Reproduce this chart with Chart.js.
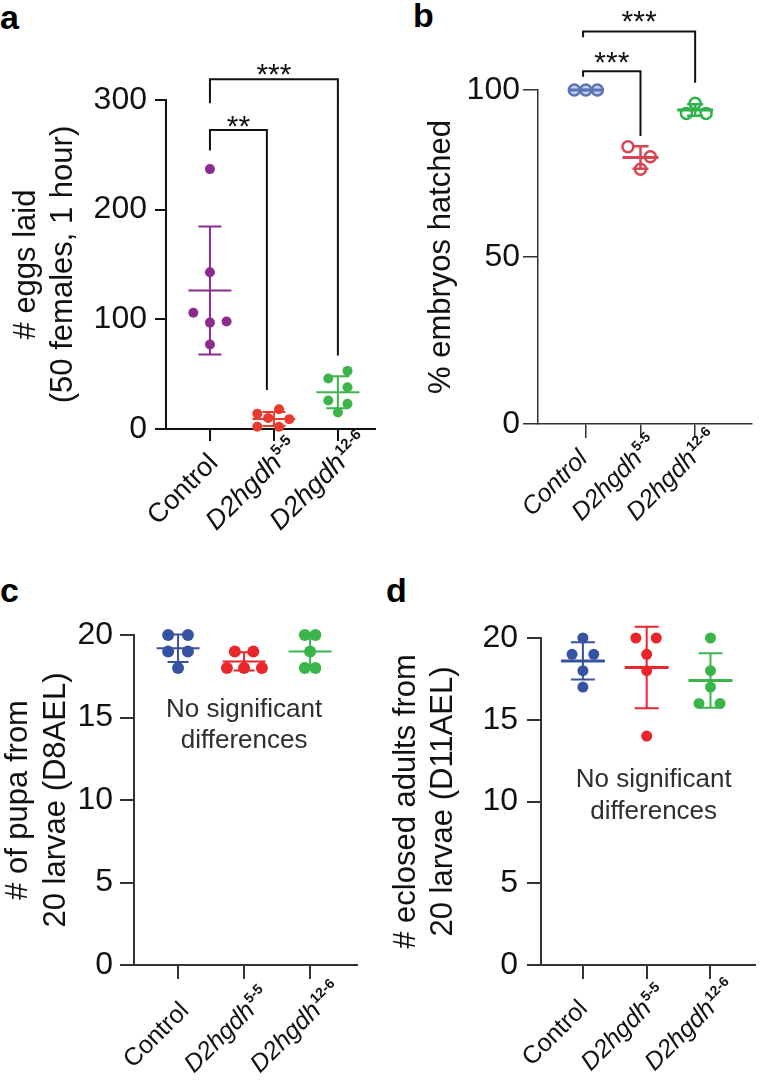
<!DOCTYPE html>
<html>
<head>
<meta charset="utf-8">
<title>D2hgdh fertility panels</title>
<script src="https://cdn.jsdelivr.net/npm/chart.js@4.4.1/dist/chart.umd.min.js"></script>
<style>
  body { margin: 0; background: #fff; }
  #fig { position: relative; width: 760px; height: 1088px; overflow: hidden; }
  #fig canvas { position: absolute; }
  .letter { position: absolute; font: bold 34px "Liberation Sans", Arial, sans-serif; line-height: 34px; color: #000; }
</style>
</head>
<body>
<div id="fig">
  <div class="letter" style="left:0px; top:0px;">a</div>
  <div class="letter" style="left:413px; top:-2px;">b</div>
  <div class="letter" style="left:0px; top:573px;">c</div>
  <div class="letter" style="left:386px; top:573px;">d</div>
  <canvas id="panelA" width="380" height="540" style="left:0; top:0;"></canvas>
  <canvas id="panelB" width="380" height="540" style="left:380px; top:0;"></canvas>
  <canvas id="panelC" width="380" height="548" style="left:0; top:540px;"></canvas>
  <canvas id="panelD" width="380" height="548" style="left:380px; top:540px;"></canvas>
</div>
<script>
// Group labels (main text + superscript allele)
const groupNames = ['Control', 'D2hgdh', 'D2hgdh'];
const groupSups = ['', '5-5', '12-6'];

// a: eggs laid (50 females, 1 hour)
const eggsControl = [237, 143, 106, 97, 98, 77];
const eggs55 = [14, 18, 10, 9, 2, 2];
const eggs126 = [53, 46, 38, 26, 23, 15];
const eggsSpread = [[0, 0, -0.26, 0, 0.26, 0], [-0.26, 0.08, -0.09, 0.24, -0.26, 0.08], [0.15, -0.15, 0.15, -0.15, 0.15, 0]];
const eggsTicks = [0, 100, 200, 300];
// [from group, to group, bar height, left leg end, right leg end, stars, stars height]
const eggsBrackets = [[1, 3, 319, 297, 67, '***', 330], [1, 1.89, 272.6, 254, 35.5, '**', 283]];

// b: % embryos hatched
const hatchControl = [100, 100, 100];
const hatch55 = [83, 80, 76.3];
const hatch126 = [96, 93, 93];
const hatchSpread = [[-0.21, 0, 0.21], [-0.23, 0.18, 0], [0, -0.16, 0.2]];
const hatchTicks = [0, 50, 100];
const hatchBrackets = [[0.95, 3, 117.5, 115.8, 102.2, '***', 122.8], [0.95, 2, 105.6, 104, 86.2, '***', 110.5]];

// c: # of pupa from 20 larvae (D8AEL)
const pupaControl = [20, 20, 19, 19, 18];
const pupa55 = [19, 19, 18, 18, 18];
const pupa126 = [20, 20, 19, 18, 18];
const pupaSpread = [[-0.15, 0.15, -0.15, 0.15, 0], [-0.14, 0.14, -0.26, 0, 0.27], [-0.08, 0.08, 0, -0.08, 0.08]];

// d: # eclosed adults from 20 larvae (D11AEL)
const adultControl = [20, 19, 19, 18, 17];
const adult55 = [20, 20, 19, 18, 14];
const adult126 = [20, 18, 17, 16, 16];
const adultSpread = [[0, -0.17, 0.17, 0, 0], [-0.17, 0.15, 0, 0, 0], [0, 0, 0, -0.18, 0.15]];
const countTicks = [0, 5, 10, 15, 20];

const FONT = '"Liberation Sans", Arial, sans-serif';
Chart.defaults.font.family = FONT;
Chart.defaults.color = '#111';

// mean +/- SD bars, significance brackets and notes
const dotPlot = {
    id: 'dotPlot',
    afterDatasetsDraw(chart, args, o) {
        const { ctx, scales: { x, y } } = chart;
        ctx.save();
        ctx.lineCap = 'butt';
        chart.data.datasets.forEach((ds, g) => {
            const vals = ds.data.map(p => p.y);
            const m = vals.reduce((a, b) => a + b, 0) / vals.length;
            const sd = Math.sqrt(vals.reduce((a, b) => a + (b - m) ** 2, 0) / (vals.length - 1));
            const cx = x.getPixelForValue(g + 1);
            const ym = y.getPixelForValue(m);
            const yt = y.getPixelForValue(m + sd);
            const yb = y.getPixelForValue(m - sd);
            ctx.strokeStyle = ds.borderColor;
            ctx.lineWidth = o.barWidth;
            ctx.beginPath();
            ctx.moveTo(cx, yt); ctx.lineTo(cx, yb);
            ctx.moveTo(cx - o.cap, yt); ctx.lineTo(cx + o.cap, yt);
            ctx.moveTo(cx - o.cap, yb); ctx.lineTo(cx + o.cap, yb);
            ctx.stroke();
            ctx.lineWidth = o.meanWidth;
            ctx.beginPath();
            ctx.moveTo(cx - o.half, ym); ctx.lineTo(cx + o.half, ym);
            ctx.stroke();
        });

        // significance brackets
        ctx.strokeStyle = '#111';
        ctx.lineWidth = o.bracketWidth;
        ctx.fillStyle = '#111';
        ctx.font = o.starSize + 'px ' + FONT;
        ctx.textAlign = 'center';
        ctx.textBaseline = 'alphabetic';
        (o.brackets || []).forEach(([g1, g2, h, l1, l2, stars, sh]) => {
            const x1 = x.getPixelForValue(g1), x2 = x.getPixelForValue(g2);
            const yb = y.getPixelForValue(h);
            ctx.beginPath();
            ctx.moveTo(x1, y.getPixelForValue(l1));
            ctx.lineTo(x1, yb);
            ctx.lineTo(x2, yb);
            ctx.lineTo(x2, y.getPixelForValue(l2));
            ctx.stroke();
            ctx.fillText(stars, (x1 + x2) / 2, y.getPixelForValue(sh) + 0.575 * o.starSize);
        });

        // "No significant differences"
        if (o.note) {
            ctx.fillStyle = '#2e2e2e';
            ctx.font = o.note.size + 'px ' + FONT;
            ctx.textBaseline = 'middle';
            o.note.lines.forEach((t, i) => {
                ctx.fillText(t, x.getPixelForValue(o.note.x), y.getPixelForValue(o.note.y[i]));
            });
        }
        ctx.restore();
    }
};

// rotated category labels: main text ends at the anchor, superscript allele runs past it
const catLabels = {
    id: 'catLabels',
    afterDraw(chart, args, o) {
        const { ctx, scales: { x }, chartArea } = chart;
        groupNames.forEach((name, i) => {
            const px = x.getPixelForValue(i + 1) + o.dx;
            const py = chartArea.bottom + o.dy;
            const mainFont = (o.italic[i] ? 'italic ' : '') + o.size + 'px ' + FONT;
            ctx.save();
            ctx.translate(px, py);
            ctx.rotate(-Math.PI / 4);
            ctx.fillStyle = '#111';
            ctx.textBaseline = 'middle';
            ctx.textAlign = 'right';
            ctx.font = mainFont;
            ctx.fillText(name, 0, 0);
            if (groupSups[i]) {
                ctx.textAlign = 'left';
                ctx.font = 'bold ' + o.supSize + 'px ' + FONT;
                ctx.fillText(groupSups[i], 1, -o.supRise);
            }
            ctx.restore();
        });
    }
};

function groupDatasets(groups, spread, colors, pt) {
    return groups.map((vals, g) => ({
        data: vals.map((v, i) => ({ x: g + 1 + spread[g][i], y: v })),
        borderColor: colors[g],
        backgroundColor: pt.fill ? pt.fill[g] : colors[g],
        pointRadius: pt.radius,
        pointBorderWidth: pt.border,
        pointBorderColor: colors[g],
        pointBackgroundColor: pt.fill ? pt.fill[g] : colors[g],
        clip: false
    }));
}

function makePanel(id, c) {
    return new Chart(document.getElementById(id), {
        type: 'scatter',
        data: { datasets: groupDatasets(c.groups, c.spread, c.colors, c.point) },
        options: {
            responsive: false,
            animation: false,
            events: [],
            layout: { padding: { top: c.top, right: c.right, bottom: 0, left: 0 } },
            plugins: {
                legend: { display: false },
                tooltip: { enabled: false },
                dotPlot: c.dot,
                catLabels: c.labels
            },
            scales: {
                x: {
                    type: 'linear',
                    min: c.xMin,
                    max: c.xMax,
                    afterBuildTicks: s => { s.ticks = groupNames.map((n, i) => ({ value: i + 1 })); },
                    afterFit: s => { s.height = c.xHeight; },
                    ticks: { display: false },
                    grid: { drawOnChartArea: false, drawTicks: true, tickLength: c.xTick, color: c.axisColor, lineWidth: c.axisWidth },
                    border: { display: true, color: c.axisColor, width: c.axisWidth }
                },
                y: {
                    min: c.yTicks[0],
                    max: c.yTicks[c.yTicks.length - 1],
                    afterBuildTicks: s => { s.ticks = c.yTicks.map(v => ({ value: v })); },
                    afterFit: s => { s.width = c.yWidth; },
                    ticks: { font: { size: c.tickSize }, padding: c.tickPad, color: '#111' },
                    grid: { drawOnChartArea: false, drawTicks: true, tickLength: c.yTick, color: c.axisColor, lineWidth: c.axisWidth },
                    border: { display: true, color: c.axisColor, width: c.axisWidth },
                    title: {
                        display: true,
                        text: c.title,
                        color: '#111',
                        font: { size: c.titleSize, lineHeight: c.titleLine },
                        padding: { top: c.titlePad, bottom: 0 }
                    }
                }
            }
        },
        plugins: [dotPlot, catLabels]
    });
}

const colorsA = ['#8c2a8e', '#ea3a2d', '#3cb44b'];
const colorsB = ['#5a74b8', '#d9434f', '#2eb24b'];
const colorsCD = ['#3652a3', '#e8262b', '#3bb44a'];

makePanel('panelA', {
    groups: [eggsControl, eggs55, eggs126], spread: eggsSpread, colors: colorsA,
    point: { radius: 5, border: 0 },
    top: 100, right: 0, xHeight: 111, yWidth: 166,
    xMin: 0.313, xMax: 3.58, yTicks: eggsTicks,
    tickSize: 32, tickPad: 8, yTick: 11, xTick: 12,
    axisColor: '#111', axisWidth: 2,
    title: ['# eggs laid', '(50 females, 1 hour)'], titleSize: 31, titleLine: 1.2, titlePad: 8,
    dot: { half: 21.5, cap: 11.5, barWidth: 2, meanWidth: 2, bracketWidth: 2, starSize: 30, brackets: eggsBrackets },
    labels: { dx: 4, dy: 30, size: 27, supSize: 15, supRise: 7, italic: [false, true, true] }
});

makePanel('panelB', {
    groups: [hatchControl, hatch55, hatch126], spread: hatchSpread, colors: colorsB,
    point: { radius: 5.5, border: 2.5, fill: ['rgba(90,116,184,0.35)', 'rgba(255,255,255,0)', 'rgba(255,255,255,0)'] },
    top: 90, right: 3, xHeight: 116, yWidth: 158,
    xMin: 0.125, xMax: 4.04, yTicks: hatchTicks,
    tickSize: 32, tickPad: 3, yTick: 15, xTick: 14,
    axisColor: '#333', axisWidth: 1.5,
    title: '% embryos hatched', titleSize: 31, titleLine: 1.2, titlePad: 43,
    dot: { half: 18, cap: 8, barWidth: 2.5, meanWidth: 3, bracketWidth: 2, starSize: 30, brackets: hatchBrackets },
    labels: { dx: -2, dy: 31, size: 25, supSize: 14, supRise: 7, italic: [true, true, true] }
});

makePanel('panelC', {
    groups: [pupaControl, pupa55, pupa126], spread: pupaSpread, colors: colorsCD,
    point: { radius: 6, border: 0 },
    top: 95, right: 23, xHeight: 123, yWidth: 134,
    xMin: 0.333, xMax: 3.71, yTicks: countTicks,
    tickSize: 32, tickPad: 7, yTick: 14, xTick: 14,
    axisColor: '#333', axisWidth: 2,
    title: ['# of pupa from', '20 larvae (D8AEL)'], titleSize: 31, titleLine: 1.22, titlePad: 0,
    dot: { half: 21.5, cap: 10.5, barWidth: 2, meanWidth: 2, bracketWidth: 2, starSize: 30,
           note: { x: 2, y: [15.45, 13.6], lines: ['No significant', 'differences'], size: 26 } },
    labels: { dx: 7, dy: 42, size: 25, supSize: 14, supRise: 7, italic: [false, true, true] }
});

makePanel('panelD', {
    groups: [adultControl, adult55, adult126], spread: adultSpread, colors: colorsCD,
    point: { radius: 5.5, border: 0 },
    top: 98, right: 0, xHeight: 123, yWidth: 161,
    xMin: 0.343, xMax: 3.69, yTicks: countTicks,
    tickSize: 32, tickPad: 9, yTick: 14, xTick: 14,
    axisColor: '#333', axisWidth: 2,
    title: ['# eclosed adults from', '20 larvae (D11AEL)'], titleSize: 31, titleLine: 1.2, titlePad: 8,
    dot: { half: 22, cap: 12, barWidth: 2, meanWidth: 3, bracketWidth: 2, starSize: 30,
           note: { x: 2.11, y: [11.3, 9.35], lines: ['No significant', 'differences'], size: 26 } },
    labels: { dx: 1, dy: 40, size: 25, supSize: 14, supRise: 7, italic: [false, true, true] }
});
</script>
</body>
</html>
